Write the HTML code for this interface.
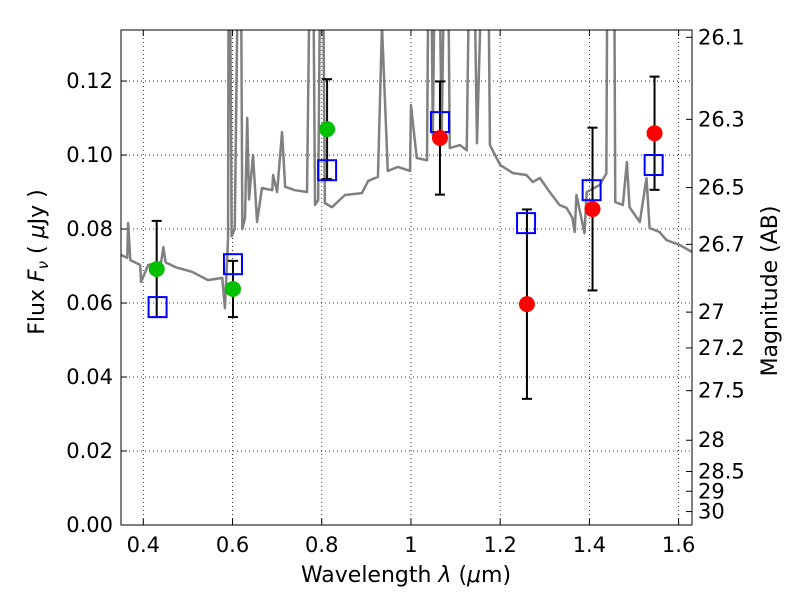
<!DOCTYPE html>
<html><head><meta charset="utf-8"><style>
html,body{margin:0;padding:0;background:#fff}
svg text{font-family:"DejaVu Sans","Liberation Sans",sans-serif;}
</style></head><body>
<svg id="chart" width="800" height="600" viewBox="0 0 800 600" xmlns="http://www.w3.org/2000/svg"></svg>
<script>
// spectrum data (wavelength um, flux uJy); 0.2 = line exceeds plot top
const specLam=[0.35,0.364,0.366,0.371,0.393,0.395,0.411,0.44,0.445,0.45,0.472,0.51,0.545,0.577,0.583,0.59,0.592,0.598,0.605,0.617,0.622,0.628,0.633,0.637,0.646,0.655,0.666,0.689,0.691,0.7,0.711,0.718,0.74,0.767,0.778,0.785,0.792,0.8,0.807,0.823,0.852,0.89,0.904,0.926,0.935,0.948,0.971,0.998,1.0,1.013,1.036,1.042,1.049,1.058,1.069,1.08,1.087,1.11,1.125,1.136,1.148,1.17,1.177,1.2,1.229,1.259,1.273,1.289,1.311,1.333,1.349,1.362,1.367,1.371,1.389,1.394,1.423,1.438,1.442,1.454,1.458,1.475,1.484,1.49,1.513,1.528,1.535,1.557,1.573,1.602,1.63];
const specFlux=[0.073,0.0722,0.0816,0.0716,0.0703,0.0657,0.0703,0.071,0.0751,0.071,0.0697,0.0684,0.0662,0.0668,0.0586,0.0776,0.2,0.078,0.08,0.2,0.08,0.083,0.11,0.088,0.1,0.0819,0.0911,0.0905,0.0946,0.09,0.1062,0.0914,0.0905,0.09,0.2,0.0865,0.0878,0.2,0.087,0.0859,0.0892,0.0897,0.093,0.0941,0.135,0.0957,0.0968,0.0957,0.1135,0.0992,0.0986,0.2,0.1054,0.2,0.1054,0.2,0.1019,0.1027,0.1013,0.2,0.1032,0.2,0.1027,0.0973,0.0951,0.0946,0.0927,0.0938,0.09,0.0865,0.0857,0.083,0.0792,0.0892,0.0789,0.09,0.0919,0.095,0.2,0.2,0.0873,0.0865,0.0981,0.0859,0.0819,0.0938,0.0803,0.0792,0.077,0.0757,0.0738];
// photometry
const greenLam=[0.43,0.601,0.812];
const greenFlux=[0.0692,0.0638,0.107];
const greenErr=[0.013,0.0076,0.0135];
const redLam=[1.065,1.26,1.407,1.546];
const redFlux=[0.1046,0.0597,0.0854,0.1059];
const redErr=[0.0153,0.0256,0.022,0.0153];
const modelLam=[0.432,0.601,0.812,1.065,1.258,1.405,1.544];
const modelFlux=[0.0589,0.0705,0.0959,0.1089,0.0816,0.0905,0.0973];
const xTicks=[0.4,0.6,0.8,1.0,1.2,1.4,1.6];
const xTickLabels=["0.4","0.6","0.8","1","1.2","1.4","1.6"];
const yTicks=[0,0.02,0.04,0.06,0.08,0.1,0.12];
const yTickLabels=["0.00","0.02","0.04","0.06","0.08","0.10","0.12"];
const magTicks=[26.1,26.3,26.5,26.7,27,27.2,27.5,28,28.5,29,30];
const magTickLabels=["26.1","26.3","26.5","26.7","27","27.2","27.5","28","28.5","29","30"];

const L=121,R=692,T=30,B=525,xmin=0.35,xmax=1.63,ymin=0,ymax=0.1338;
const X=v=>L+(v-xmin)/(xmax-xmin)*(R-L);
const Y=v=>B-(v-ymin)/(ymax-ymin)*(B-T);
const svg=document.getElementById('chart');
const NS='http://www.w3.org/2000/svg';
function mk(tag,attrs,parent){const e=document.createElementNS(NS,tag);for(const k in attrs)e.setAttribute(k,attrs[k]);(parent||svg).appendChild(e);return e;}

const defs=mk('defs',{});
const cp=mk('clipPath',{id:'clip'},defs);mk('rect',{x:L,y:T,width:R-L,height:B-T},cp);

// grid
const grid=mk('g',{});


xTicks.forEach(v=>mk('line',{x1:X(v),x2:X(v),y1:T,y2:B,stroke:'#000','stroke-width':0.8,'stroke-dasharray':'1,3'},grid));
yTicks.forEach(v=>mk('line',{x1:L,x2:R,y1:Y(v),y2:Y(v),stroke:'#000','stroke-width':0.8,'stroke-dasharray':'1,3'},grid));

// spectrum
const spec=mk('polyline',{points:specLam.map((l,i)=>X(l)+','+Y(specFlux[i])).join(' '),fill:'none',stroke:'#808080','stroke-width':2.5,'stroke-linejoin':'round','clip-path':'url(#clip)'});



// error bars + points
function errbars(lams,fl,er,name){
  const g=mk('g',{});
  
  
  lams.forEach((l,i)=>{
    const x=X(l),y1=Y(fl[i]+er[i]),y2=Y(fl[i]-er[i]);
    mk('line',{x1:x,x2:x,y1:y1,y2:y2,stroke:'#000','stroke-width':2},g);
    mk('line',{x1:x-5,x2:x+5,y1:y1,y2:y1,stroke:'#000','stroke-width':2},g);
    mk('line',{x1:x-5,x2:x+5,y1:y2,y2:y2,stroke:'#000','stroke-width':2},g);
  });
}
errbars(greenLam,greenFlux,greenErr,'green-error-bars');
errbars(redLam,redFlux,redErr,'red-error-bars');
modelLam.forEach((l,i)=>{
  const r=mk('rect',{x:X(l)-9,y:Y(modelFlux[i])-10,width:18,height:20,fill:'none',stroke:'#0000ff','stroke-width':2});
  
  
});
greenLam.forEach((l,i)=>{
  const c=mk('circle',{cx:X(l),cy:Y(greenFlux[i]),r:8,fill:'#00c000'});
  
  
});
redLam.forEach((l,i)=>{
  const c=mk('circle',{cx:X(l),cy:Y(redFlux[i]),r:8,fill:'#ff0000'});
  
  
});

// frame
const fr=mk('rect',{x:L,y:T,width:R-L,height:B-T,fill:'none',stroke:'#000','stroke-width':1});



// x ticks
xTicks.forEach((v,i)=>{
  mk('line',{x1:X(v),x2:X(v),y1:B,y2:B-6,stroke:'#000'});
  mk('line',{x1:X(v),x2:X(v),y1:T,y2:T+6,stroke:'#000'});
  const t=mk('text',{x:X(v),y:B+27,'font-size':21,'text-anchor':'middle'});
  t.textContent=xTickLabels[i];
  
  
});
yTicks.forEach((v,i)=>{
  mk('line',{x1:L,x2:L+6,y1:Y(v),y2:Y(v),stroke:'#000'});
  const t=mk('text',{x:L-8,y:Y(v)+7,'font-size':21,'text-anchor':'end'});
  t.textContent=yTickLabels[i];
  
  
});
magTicks.forEach((m,i)=>{
  const f=Math.pow(10,(23.9-m)/2.5);const y=Y(f);
  mk('line',{x1:R,x2:R-6,y1:y,y2:y,stroke:'#000'});
  const t=mk('text',{x:R+6,y:y+7,'font-size':21,'text-anchor':'start'});
  t.textContent=magTickLabels[i];
  
  
});

// axis titles
const xt=mk('text',{x:406,y:582,'font-size':22,'text-anchor':'middle'});
xt.innerHTML='Wavelength  <tspan font-style="italic">λ</tspan> (<tspan font-style="italic">μ</tspan>m)';
xt.setAttribute('xml:space','preserve');


const yt=mk('text',{x:0,y:0,'font-size':22,'text-anchor':'middle',transform:'translate(44,262) rotate(-90)'});
yt.innerHTML='Flux  <tspan font-style="italic">F</tspan><tspan font-style="italic" font-size="15" dy="4">ν</tspan><tspan dy="-4">  (  </tspan><tspan font-style="italic">μ</tspan>Jy )';
yt.setAttribute('xml:space','preserve');


const rt=mk('text',{x:0,y:0,'font-size':22,'text-anchor':'middle',transform:'translate(777,291) rotate(-90)'});
rt.textContent='Magnitude (AB)';


</script>
</body></html>
